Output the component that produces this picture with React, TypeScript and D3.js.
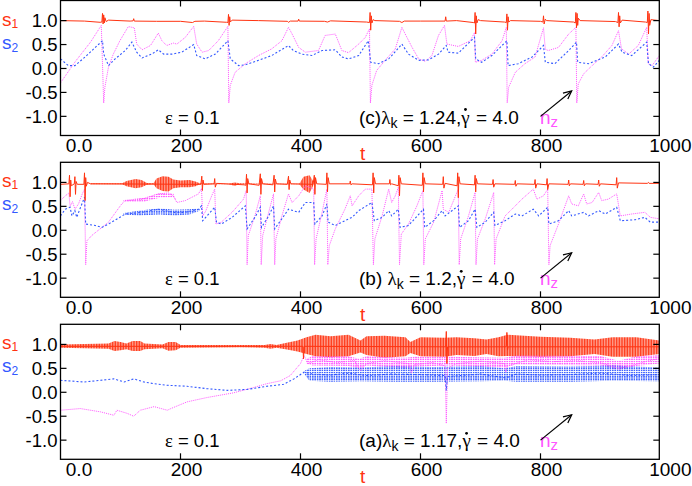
import React, { useLayoutEffect, useRef, useState } from 'react';
import * as d3 from 'd3';

type P = [number, number];
type B = [number, number, number];

const xTicks = [0, 200, 400, 600, 800, 1000];
const xTickLabels = ['0.0', '200', '400', '600', '800', '1000'];
const yTicks = [-1, -0.5, 0, 0.5, 1];
const yTickLabels = ['-1.0', '-0.5', '0.0', '0.5', '1.0'];

// ---- panel (c) lambda_k = 1.24
const s1C: P[] = [
  [0, 1.0], [40, 0.99], [66, 0.965], [69, 0.97], [70, 1.15], [71, 0.93], [72, 1.12], [73, 0.95], [74, 1.06], [76, 0.98], [80, 1.01],
  [116, 0.99], [121, 0.995], [122, 1.04], [123, 0.99], [160, 0.985], [200, 0.985], [220, 0.96], [224, 0.985], [240, 0.99],
  [277, 0.965], [279, 0.96], [280, 1.13], [281, 0.9], [282, 1.08], [283, 0.97], [286, 1.01], [330, 1.0], [378, 0.985],
  [380, 0.965], [383, 0.99], [396, 0.99], [397, 1.03], [398, 0.99], [440, 0.985], [445, 0.97], [450, 0.995], [510, 0.97],
  [515, 0.96], [516, 1.17], [517, 0.8], [518, 1.1], [519, 0.95], [521, 1.02], [524, 1.0], [565, 0.985], [569, 0.96],
  [573, 0.99], [600, 0.99], [641, 0.99], [642, 1.08], [643, 0.99], [660, 1.0], [688, 0.96], [690, 0.95], [691, 1.17],
  [692, 0.72], [693, 1.1], [694, 0.95], [696, 1.02], [700, 1.0], [740, 0.97], [743, 0.96], [744, 1.14], [745, 0.8],
  [746, 1.08], [747, 0.97], [750, 1.0], [800, 0.985], [804, 0.97], [805, 1.1], [806, 0.93], [808, 1.03], [810, 1.0],
  [855, 0.97], [858, 0.95], [859, 1.17], [860, 0.85], [861, 1.15], [862, 0.9], [863, 1.05], [866, 1.0], [925, 0.98],
  [929, 0.96], [930, 1.17], [931, 0.87], [932, 1.1], [933, 0.95], [936, 1.01], [975, 0.97], [978, 0.96], [979, 1.2],
  [980, 0.72], [981, 1.15], [982, 0.9], [984, 1.02], [998, 1.0],
];
const s2C: P[] = [
  [0, 0.2], [13, 0.06], [24, 0.06], [41, 0.24], [58, 0.44], [70, 0.58], [72, 0.3], [80, 0.06], [91, 0.2], [108, 0.375],
  [119, 0.55], [127, 0.34], [136, 0.22], [152, 0.3], [163, 0.39], [172, 0.3], [186, 0.3], [202, 0.34], [222, 0.5],
  [227, 0.27], [241, 0.2], [258, 0.3], [279, 0.58], [283, 0.2], [297, 0.06], [308, 0.076], [330, 0.17], [352, 0.27],
  [380, 0.48], [388, 0.375], [402, 0.3], [419, 0.27], [436, 0.375], [458, 0.39], [469, 0.24], [480, 0.2], [497, 0.27],
  [513, 0.58], [517, 0.13], [530, 0.1], [547, 0.2], [569, 0.51], [580, 0.3], [597, 0.17], [613, 0.18], [630, 0.3],
  [643, 0.48], [646, 0.34], [663, 0.32], [690, 0.65], [692, 0.2], [702, 0.13], [719, 0.27], [744, 0.58], [746, 0.06],
  [763, 0.1], [786, 0.24], [805, 0.48], [808, 0.13], [824, 0.1], [847, 0.375], [860, 0.55], [862, 0.13], [880, 0.1],
  [908, 0.24], [930, 0.51], [936, 0.34], [952, 0.27], [977, 0.55], [980, 0.1], [988, 0.03], [998, 0.17],
];
const nzC: P[] = [
  [0, -0.3], [25, 0.15], [50, 0.55], [68, 0.9], [72, -0.72], [74, -0.39], [80, 0.03], [88, 0.3], [99, 0.58], [113, 0.875],
  [123, 0.85], [127, 0.51], [136, 0.39], [150, 0.48], [163, 0.74], [169, 0.58], [177, 0.48], [188, 0.53], [194, 0.51],
  [208, 0.65], [222, 0.88], [227, 0.51], [236, 0.34], [247, 0.375], [263, 0.58], [279, 0.88], [280.5, -0.72], [283, -0.35],
  [291, -0.08], [308, 0.1], [330, 0.27], [352, 0.41], [369, 0.58], [380, 0.86], [386, 0.72], [397, 0.44], [408, 0.34],
  [430, 0.375], [441, 0.69], [458, 0.72], [469, 0.375], [480, 0.33], [497, 0.51], [508, 0.65], [515, 0.83], [516.5, -0.72],
  [519, -0.35], [527, -0.04], [541, 0.17], [558, 0.41], [569, 0.86], [574.5, 0.72], [586, 0.44], [597, 0.2], [608, 0.15],
  [619, 0.27], [630, 0.69], [640, 0.9], [644, 0.51], [663, 0.46], [683, 0.58], [690, 0.75], [691.5, 0.13], [702, 0.17],
  [719, 0.3], [736, 0.58], [743, 0.86], [744.5, -0.72], [747, -0.39], [758, -0.08], [774, 0.1], [791, 0.24], [805, 0.85],
  [808, 0.4], [813, 0.375], [830, 0.44], [847, 0.72], [859, 0.86], [860.5, -0.72], [863, -0.32], [872, -0.11], [886, 0.06],
  [902, 0.24], [919, 0.48], [930, 0.79], [935, 0.41], [947, 0.3], [963, 0.48], [977, 0.86], [979.5, 0.1], [986, 0.06],
  [998, 0.27],
];

// ---- panel (b) lambda_k = 1.2
const s1B: P[] = [
  [0, 0.96], [14, 0.97], [15, 1.15], [16, 0.7], [17, 1.05], [18, 0.93], [23, 0.97], [24, 1.12], [25, 0.75], [26, 1.02],
  [28, 0.96], [39, 0.96], [40, 1.2], [41, 0.62], [42, 1.1], [43, 0.92], [45, 1.0], [50, 0.97], [234, 0.96], [235.5, 1.13],
  [236.5, 0.83], [237.5, 1.05], [239, 0.96], [256, 0.97], [257, 1.08], [258, 0.9], [260, 0.98], [306, 0.95], [309, 0.94],
  [310, 1.17], [311, 0.78], [312, 1.08], [314, 0.97], [331, 0.94], [333, 1.18], [334, 0.75], [335, 1.08], [337, 0.97],
  [354, 0.95], [356, 1.15], [357, 0.8], [358, 1.07], [360, 0.97], [378, 0.96], [380, 1.13], [381, 0.85], [382, 1.05],
  [384, 0.97], [421, 0.96], [423, 1.15], [424, 0.75], [425, 1.1], [427, 0.97], [443, 0.96], [444, 1.2], [445, 0.8],
  [446, 1.1], [448, 0.97], [482, 0.97], [483, 1.03], [484, 0.95], [486, 0.97], [520, 0.95], [521, 1.2], [522, 0.78],
  [523, 1.1], [525, 0.97], [548, 0.97], [549, 1.06], [550, 0.95], [552, 0.97], [563, 0.93], [564, 1.15], [565, 0.72],
  [566, 1.1], [568, 0.97], [603, 0.94], [604, 1.2], [605, 0.8], [606, 1.1], [608, 0.97], [637, 0.96], [638, 1.12],
  [639, 0.88], [641, 0.98], [661, 0.93], [662, 1.2], [663, 0.68], [664, 1.12], [666, 0.97], [690, 0.95], [691, 1.15],
  [692, 0.8], [693, 1.08], [695, 0.97], [720, 0.96], [721, 1.06], [722, 0.9], [724, 0.97], [757, 0.96], [758, 1.04],
  [759, 0.92], [761, 0.97], [790, 0.96], [791, 1.06], [792, 0.88], [794, 0.97], [810, 0.95], [811, 1.08], [812, 0.85],
  [814, 0.97], [846, 0.96], [847, 1.05], [848, 0.93], [850, 0.97], [871, 0.96], [872, 1.04], [873, 0.93], [875, 0.97],
  [896, 0.96], [897, 1.05], [898, 0.92], [900, 0.97], [926, 0.95], [927, 1.1], [928, 0.88], [930, 0.99], [978, 0.98],
  [980, 1.0], [981, 0.98], [998, 0.98],
];
const s2B: P[] = [
  [0, 0.3], [8, 0.44], [16, 0.48], [19, 0.3], [24, 0.41], [27, 0.27], [40, 0.69], [42, 0.13], [58, 0.1], [69, 0.06],
  [80, 0.13], [108, 0.34], [136, 0.375], [163, 0.44], [188, 0.375], [208, 0.375], [230, 0.44], [235, 0.51], [237, 0.2],
  [252, 0.41], [257, 0.48], [260, 0.17], [268, 0.13], [286, 0.27], [308, 0.51], [311, 0.03], [324, 0.27], [333, 0.48],
  [335, 0.06], [347, 0.3], [355, 0.51], [357, 0.03], [369, 0.24], [380, 0.44], [397, 0.375], [408, 0.58], [422, 0.58],
  [424, 0.13], [436, 0.3], [444, 0.55], [446, 0.17], [458, 0.1], [474, 0.2], [486, 0.27], [497, 0.41], [519, 0.58],
  [523, 0.2], [536, 0.27], [547, 0.41], [552, 0.3], [563, 0.44], [566, 0.06], [580, 0.1], [605, 0.44], [607, 0.06],
  [622, 0.2], [636, 0.41], [641, 0.3], [663, 0.51], [665, 0.06], [680, 0.2], [691, 0.44], [694, 0.06], [708, 0.17],
  [722, 0.375], [724, 0.1], [741, 0.2], [758, 0.34], [769, 0.3], [788, 0.44], [797, 0.3], [812, 0.48], [814, 0.13],
  [830, 0.2], [847, 0.41], [852, 0.3], [872, 0.375], [880, 0.3], [897, 0.41], [908, 0.34], [927, 0.48], [933, 0.2],
  [958, 0.22], [974, 0.27], [983, 0.17], [998, 0.17],
];
const nzB: P[] = [
  [0, 0.62], [8, 0.72], [14, 0.78], [16, 0.5], [20, 0.6], [24, 0.44], [30, 0.55], [36, 0.75], [40, 0.86], [42, -0.72],
  [44, -0.22], [52, -0.11], [80, 0.17], [102, 0.55], [108, 0.62], [136, 0.65], [163, 0.76], [180, 0.78], [188, 0.72],
  [194, 0.58], [208, 0.62], [230, 0.76], [235, 0.875], [237, 0.3], [242, 0.4], [252, 0.72], [257, 0.86], [259, 0.13],
  [268, 0.17], [286, 0.375], [305, 0.65], [309.5, 0.83], [311, -0.72], [313, -0.11], [324, 0.3], [333, 0.72],
  [334.5, -0.72], [337, -0.11], [347, 0.375], [355, 0.76], [357, -0.72], [359, -0.18], [369, 0.3], [380, 0.76],
  [386, 0.58], [397, 0.72], [408, 0.93], [422, 0.86], [423.5, -0.72], [426, -0.18], [436, 0.375], [444, 0.86],
  [445.5, -0.72], [448, -0.32], [458, 0.03], [474, 0.44], [483, 0.72], [486, 0.51], [497, 0.72], [508, 0.86], [519, 0.86],
  [521.5, -0.72], [524, -0.18], [536, 0.3], [547, 0.86], [552, 0.58], [558, 0.72], [563, 0.9], [565, -0.72], [568, -0.08],
  [580, 0.13], [594, 0.51], [604, 0.83], [605.5, -0.72], [608, -0.18], [622, 0.17], [636, 0.83], [638, 0.44], [647, 0.375],
  [663, 0.86], [664.5, -0.72], [667, -0.18], [680, 0.3], [691, 0.79], [692.5, -0.72], [695, -0.18], [708, 0.24],
  [722, 0.79], [723.5, -0.72], [726, -0.18], [741, 0.3], [758, 0.51], [769, 0.65], [788, 0.86], [794, 0.65], [805, 0.72],
  [812, 0.86], [814, -0.72], [816, -0.32], [830, 0.13], [847, 0.72], [852, 0.55], [863, 0.51], [872, 0.76], [877, 0.55],
  [886, 0.58], [897, 0.79], [902, 0.62], [913, 0.65], [927, 0.76], [933, 0.3], [952, 0.34], [974, 0.375], [983, 0.27],
  [998, 0.24],
];
// dense oscillation envelopes [t, low, high]
const s1BandB: B[] = [
  [50, 0.96, 0.98], [103, 0.96, 0.98], [110, 0.92, 1.03], [125, 0.88, 1.07], [135, 0.9, 1.05], [144, 0.95, 0.99],
  [155, 0.96, 0.98], [160, 0.88, 1.08], [170, 0.82, 1.13], [180, 0.81, 1.12], [188, 0.88, 1.06], [200, 0.9, 1.04],
  [215, 0.9, 1.05], [225, 0.92, 1.02], [232, 0.96, 0.98], [280, 0.96, 0.97], [290, 0.93, 1.0], [300, 0.96, 0.98],
  [398, 0.96, 0.97], [405, 0.85, 1.12], [415, 0.78, 1.15], [420, 0.9, 1.05], [422, 0.96, 0.97],
];
const s2BandB: B[] = [
  [105, 0.33, 0.36], [130, 0.31, 0.41], [165, 0.33, 0.46], [190, 0.31, 0.43], [215, 0.33, 0.44], [232, 0.41, 0.46],
];
const nzBandB: B[] = [
  [105, 0.6, 0.63], [140, 0.6, 0.68], [165, 0.68, 0.78], [188, 0.69, 0.77], [192, 0.62, 0.65],
];

// ---- panel (a) lambda_k = 1.17
const s1A: P[] = [
  [0, 0.96], [404, 0.96], [405, 0.7], [406, 0.96], [642, 0.95], [643, 1.27], [644, 0.6], [645, 0.95], [743, 0.95],
  [744, 1.25], [745, 0.88], [746, 0.95], [998, 0.95],
];
const s2A: P[] = [
  [0, 0.25], [39, 0.215], [67, 0.25], [89, 0.28], [106, 0.215], [122, 0.28], [139, 0.215], [156, 0.18], [178, 0.146],
  [211, 0.125], [244, 0.076], [278, 0.04], [311, 0.06], [344, 0.125], [372, 0.167], [389, 0.28], [406, 0.42],
  [420, 0.38], [450, 0.36], [480, 0.4], [510, 0.35], [550, 0.38], [600, 0.37], [641, 0.35], [643, 0.04], [645, 0.33],
  [700, 0.38], [742, 0.3], [760, 0.38], [800, 0.36], [850, 0.37], [900, 0.4], [950, 0.35], [998, 0.37],
];
const nzA: P[] = [
  [0, -0.375], [33, -0.34], [67, -0.41], [89, -0.48], [94, -0.375], [111, -0.44], [122, -0.5], [133, -0.375],
  [156, -0.3], [178, -0.375], [184, -0.34], [211, -0.2], [244, -0.11], [289, -0.01], [322, 0.1], [344, 0.18],
  [367, 0.24], [383, 0.35], [400, 0.6], [406, 0.77], [412, 0.6], [430, 0.68], [460, 0.62], [490, 0.66], [500, 0.45],
  [510, 0.6], [540, 0.66], [580, 0.6], [585, 0.4], [590, 0.58], [620, 0.62], [641, 0.55], [643, -0.65], [645, 0.5],
  [660, 0.6], [700, 0.65], [740, 0.6], [742, 0.42], [745, 0.55], [780, 0.68], [820, 0.64], [860, 0.66], [900, 0.62],
  [930, 0.5], [950, 0.55], [980, 0.66], [998, 0.7],
];
const s1BandA: B[] = [
  [0, 0.93, 1.0], [40, 0.92, 1.01], [80, 0.91, 1.02], [90, 0.86, 1.07], [100, 0.88, 1.05], [110, 0.9, 1.02],
  [120, 0.86, 1.07], [133, 0.86, 1.07], [140, 0.9, 1.02], [170, 0.92, 1.0], [180, 0.87, 1.05], [192, 0.88, 1.05],
  [200, 0.93, 0.99], [300, 0.94, 0.99], [340, 0.93, 0.99], [350, 0.91, 1.01], [360, 0.93, 0.99], [375, 0.9, 1.03],
  [395, 0.85, 1.08], [410, 0.8, 1.15], [425, 0.75, 1.2], [450, 0.73, 1.17], [480, 0.75, 1.2], [500, 0.83, 1.08],
  [510, 0.78, 1.17], [540, 0.72, 1.18], [575, 0.75, 1.15], [583, 0.82, 1.05], [600, 0.75, 1.15], [640, 0.74, 1.14],
  [660, 0.78, 1.15], [690, 0.76, 1.13], [710, 0.8, 1.1], [730, 0.75, 1.15], [745, 0.76, 1.2], [800, 0.74, 1.16],
  [850, 0.75, 1.14], [890, 0.8, 1.1], [920, 0.74, 1.15], [960, 0.74, 1.15], [998, 0.8, 1.08],
];
const s2BandA: B[] = [
  [405, 0.4, 0.44], [415, 0.24, 0.5], [450, 0.22, 0.53], [500, 0.23, 0.52], [560, 0.22, 0.55], [620, 0.22, 0.53],
  [700, 0.23, 0.55], [740, 0.24, 0.5], [760, 0.22, 0.55], [850, 0.22, 0.54], [920, 0.24, 0.56], [998, 0.23, 0.52],
];
const nzBandA: B[] = [
  [410, 0.6, 0.7], [420, 0.56, 0.76], [480, 0.55, 0.75], [498, 0.5, 0.7], [510, 0.56, 0.75], [575, 0.5, 0.72],
  [590, 0.54, 0.74], [650, 0.56, 0.74], [740, 0.52, 0.72], [760, 0.58, 0.77], [900, 0.56, 0.76], [930, 0.46, 0.66],
  [960, 0.55, 0.75], [998, 0.6, 0.78],
];

const arrowFrom: P = [800, -1.0];
const arrowTo: P = [852, -0.47];

const RED = '#ff3311';
const BLUE = '#3358ff';
const MAG = '#ff55ff';
const SANS = 'Liberation Sans, Arial, Helvetica, sans-serif';
const GREEK = 'Liberation Serif, DejaVu Serif, serif';

const W = 692;
const H = 486;
const PH = 135;
const x = d3.scaleLinear().domain([0, 998]).range([60.5, 659.3]);

interface PanelData {
  top: number;
  tag: string;
  lam: string;
  s1: P[];
  s2: P[];
  nz: P[];
  s1Band?: B[];
  s2Band?: B[];
  nzBand?: B[];
}

const panels: PanelData[] = [
  { top: 0.5, tag: '(c)', lam: '1.24', s1: s1C, s2: s2C, nz: nzC },
  { top: 162.3, tag: '(b) ', lam: '1.2', s1: s1B, s2: s2B, nz: nzB, s1Band: s1BandB, s2Band: s2BandB, nzBand: nzBandB },
  { top: 324.3, tag: '(a)', lam: '1.17', s1: s1A, s2: s2A, nz: nzA, s1Band: s1BandA, s2Band: s2BandA, nzBand: nzBandA },
];

// tick labels sit a little right of their ticks in the original
const tickLabelX = (t: number) => (t === 0 ? x(0) + 18.5 : x(t) + 6);

const Panel = ({ p }: { p: PanelData }) => {
  const gammaRef = useRef<SVGTSpanElement | null>(null);
  const [dot, setDot] = useState<[number, number] | null>(null);

  // the dot of gamma-dot is drawn as a mark above the measured gamma glyph
  useLayoutEffect(() => {
    if (!gammaRef.current) return;
    const bb = gammaRef.current.getBBox();
    setDot([bb.x + bb.width * 0.55, p.top + 109]);
  }, [p.top]);

  const y = d3.scaleLinear().domain([-1.4, 1.42]).range([p.top + PH, p.top]);
  const line = d3.line<P>().x(d => x(d[0])).y(d => y(d[1]));
  const area = d3.area<B>().x(d => x(d[0])).y0(d => y(d[1])).y1(d => y(d[2]));
  const x0 = x(0), x1 = x(998);
  const clipId = `clip${Math.round(p.top)}`;
  const [ax, ay] = [x(arrowFrom[0]), y(arrowFrom[1])];
  const [bx, by] = [x(arrowTo[0]), y(arrowTo[1])];
  const ang = Math.atan2(by - ay, bx - ax);
  const hl = 9;
  const head = [ang + 2.7, ang - 2.7].map(a => [bx + hl * Math.cos(a), by + hl * Math.sin(a)]);

  return (
    <g>
      <defs>
        <clipPath id={clipId}>
          <rect x={x0} y={p.top} width={x1 - x0} height={PH} />
        </clipPath>
      </defs>
      <g clipPath={`url(#${clipId})`}>
        {p.s1Band && <path d={area(p.s1Band) ?? ''} fill="url(#redHatch)" />}
        {p.nzBand && <path d={area(p.nzBand) ?? ''} fill="url(#magDots)" />}
        {p.s2Band && <path d={area(p.s2Band) ?? ''} fill="url(#blueDots)" />}
        <path d={line(p.nz) ?? ''} fill="none" stroke={MAG} strokeWidth={1} strokeDasharray="1 1" />
        <path d={line(p.s2) ?? ''} fill="none" stroke={BLUE} strokeWidth={1.1} strokeDasharray="2 2" />
        <path d={line(p.s1) ?? ''} fill="none" stroke={RED} strokeWidth={1} />
      </g>
      <rect x={x0} y={p.top} width={x1 - x0} height={PH} fill="none" stroke="#000" strokeWidth={1.3} />
      {yTicks.map((v, i) => (
        <g key={`y${i}`}>
          <line x1={x0} x2={x0 + 6} y1={y(v)} y2={y(v)} stroke="#000" strokeWidth={1.2} />
          <line x1={x1} x2={x1 - 6} y1={y(v)} y2={y(v)} stroke="#000" strokeWidth={1.2} />
          <text x={57.5} y={y(v) + 6.5} textAnchor="end" fontFamily={SANS} fontSize={18.5}>{yTickLabels[i]}</text>
        </g>
      ))}
      {xTicks.map((t, i) => (
        <g key={`x${i}`}>
          {t > 0 && t < 1000 && (
            <>
              <line x1={x(t)} x2={x(t)} y1={p.top} y2={p.top + 6} stroke="#000" strokeWidth={1.2} />
              <line x1={x(t)} x2={x(t)} y1={p.top + PH} y2={p.top + PH - 6} stroke="#000" strokeWidth={1.2} />
            </>
          )}
          {t === 1000 ? (
            <text x={691.5} y={p.top + 151.5} textAnchor="end" fontFamily={SANS} fontSize={19}>{xTickLabels[i]}</text>
          ) : (
            <text x={tickLabelX(t)} y={p.top + 151.5} textAnchor="middle" fontFamily={SANS} fontSize={19}>
              {xTickLabels[i]}
            </text>
          )}
        </g>
      ))}
      <text x={360} y={p.top + 159} fill={RED} fontFamily={SANS} fontSize={19}>t</text>
      <text x={2} y={p.top + 25} fill={RED} fontFamily={SANS} fontSize={19}>
        s<tspan fontSize={12} dy={2}>1</tspan>
      </text>
      <text x={2} y={p.top + 48} fill={BLUE} fontFamily={SANS} fontSize={19}>
        s<tspan fontSize={12} dy={3}>2</tspan>
      </text>
      <text x={165} y={p.top + 123} fontFamily={SANS} fontSize={18.5}>
        <tspan fontFamily={GREEK}>ε</tspan> = 0.1
      </text>
      <text x={359} y={p.top + 123} fontFamily={SANS} fontSize={19}>
        {p.tag}
        <tspan fontFamily={GREEK}>λ</tspan>
        <tspan fontSize={14} dy={4}>k</tspan>
        <tspan dy={-4}>{` = ${p.lam},`}</tspan>
        <tspan ref={gammaRef} fontFamily={GREEK}>γ</tspan>
        <tspan dx={1}>{' = 4.0'}</tspan>
      </text>
      {dot && <circle cx={dot[0]} cy={dot[1]} r={1.4} fill="#000" />}
      <text x={540} y={p.top + 123} fill={MAG} fontFamily={SANS} fontSize={19}>
        n<tspan fontSize={15} dy={3}>z</tspan>
      </text>
      <line x1={ax} y1={ay} x2={bx} y2={by} stroke="#000" strokeWidth={1.2} />
      <polyline points={`${head[0][0]},${head[0][1]} ${bx},${by} ${head[1][0]},${head[1][1]}`} fill="none" stroke="#000" strokeWidth={1.2} />
    </g>
  );
};

export default function App() {
  return (
    <svg width={W} height={H} style={{ position: 'absolute', left: 0, top: 0, background: '#fff' }}>
      <defs>
        <pattern id="redHatch" patternUnits="userSpaceOnUse" width={1.6} height={4}>
          <rect x={0} y={0} width={1.15} height={4} fill={RED} />
        </pattern>
        <pattern id="blueDots" patternUnits="userSpaceOnUse" width={2.4} height={2.2}>
          <rect x={0} y={0} width={1.6} height={1.4} fill={BLUE} />
        </pattern>
        <pattern id="magDots" patternUnits="userSpaceOnUse" width={2.4} height={2.2}>
          <rect x={0} y={0} width={1.6} height={1.4} fill={MAG} />
        </pattern>
      </defs>
      {panels.map((p, i) => <Panel key={i} p={p} />)}
    </svg>
  );
}
